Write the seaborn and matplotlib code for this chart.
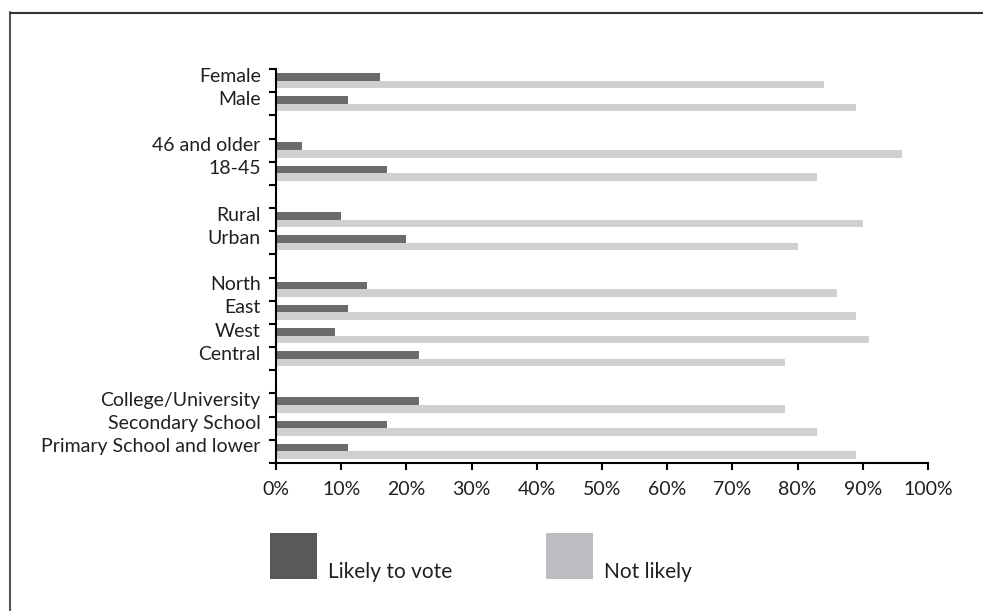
import matplotlib
matplotlib.use("Agg")
import matplotlib.pyplot as plt
import matplotlib.transforms as mtransforms
from matplotlib.patches import Rectangle
from matplotlib.lines import Line2D
import seaborn as sns
import pandas as pd

sns.set_style("white")
plt.rcParams["font.family"] = ["Lato", "DejaVu Sans"]

# Category rows, top to bottom; blank entries separate the groups
categories = ["Female", "Male", " ",
              "46 and older", "18-45", "  ",
              "Rural", "Urban", "   ",
              "North", "East", "West", "Central", "    ",
              "College/University", "Secondary School", "Primary School and lower"]

groups = ["Female", "Male", "46 and older", "18-45", "Rural", "Urban",
          "North", "East", "West", "Central",
          "College/University", "Secondary School", "Primary School and lower"]
likely_to_vote = [16, 11, 4, 17, 10, 20, 14, 11, 9, 22, 22, 17, 11]
not_likely = [84, 89, 96, 83, 90, 80, 86, 89, 91, 78, 78, 83, 89]

series = ["Likely to vote", "Not likely"]
x_ticks = list(range(0, 101, 10))

bar_colors = ["#6b6b6b", "#d0d0d0"]
legend_colors = ["#58595b", "#bcbdc0"]

df = pd.DataFrame({
    "group": groups * 2,
    "value": likely_to_vote + not_likely,
    "series": [series[0]] * len(groups) + [series[1]] * len(groups),
})

fig = plt.figure(figsize=(9.83, 6.11), dpi=100)
ax = fig.add_axes([276 / 983, 1 - 463 / 611, (928 - 276) / 983, (463 - 69) / 611])

sns.barplot(data=df, y="group", x="value", hue="series", order=categories,
            hue_order=series, palette=bar_colors, orient="h", width=0.66,
            saturation=1, linewidth=0, legend=False, ax=ax)

ax.set_xlim(0, 100)
ax.set_ylim(len(categories) - 0.5, -0.5)
ax.set_xlabel("")
ax.set_ylabel("")

# x axis: percent ticks pointing outward
ax.set_xticks(x_ticks)
ax.set_xticklabels([f"{v}%" for v in x_ticks], fontsize=14, color="#231f20")
ax.tick_params(axis="x", direction="out", length=5, width=1.5, color="black", pad=8,
               bottom=True)

# y axis: ticks sit on the boundaries between rows
ax.set_yticks([i - 0.5 for i in range(len(categories) + 1)], minor=True)
ax.tick_params(axis="y", which="minor", direction="out", length=5, width=1.5,
               color="black", left=True)
ax.tick_params(axis="y", which="major", length=0, pad=11, labelsize=14,
               labelcolor="#231f20")
shift = mtransforms.ScaledTranslation(0, 6 / 100, fig.dpi_scale_trans)
for lab in ax.get_yticklabels():
    lab.set_transform(lab.get_transform() + shift)

sns.despine(ax=ax, top=True, right=True)
for side in ("left", "bottom"):
    ax.spines[side].set_color("black")
    ax.spines[side].set_linewidth(1.5)
ax.grid(False)

# legend: large swatches with labels sitting at their bottom edge
sw_w, sw_h = 47 / 983, 46 / 611
for x0, color, label in zip([270 / 983, 546 / 983], legend_colors, series):
    fig.add_artist(Rectangle((x0, 1 - 579 / 611), sw_w, sw_h, transform=fig.transFigure,
                             facecolor=color, edgecolor="none"))
    fig.text(x0 + 58 / 983, 1 - 578 / 611, label, fontsize=15, color="#231f20",
             ha="left", va="baseline")

# outer frame (left and top edges)
fig.add_artist(Line2D([9.5 / 983, 9.5 / 983], [0, 1 - 12 / 611], transform=fig.transFigure,
                      color="#555555", linewidth=1.5))
fig.add_artist(Line2D([9.5 / 983, 1], [1 - 12.5 / 611, 1 - 12.5 / 611],
                      transform=fig.transFigure, color="#333333", linewidth=1.5))

fig.savefig("out.png", dpi=100)
